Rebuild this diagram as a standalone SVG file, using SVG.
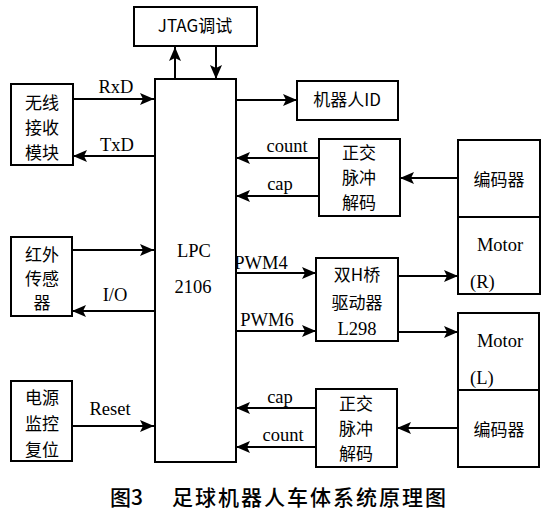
<svg xmlns="http://www.w3.org/2000/svg" width="549" height="519" viewBox="0 0 549 519">
<defs>
<marker id="ah" viewBox="0 0 14 12" refX="14" refY="6" markerWidth="14" markerHeight="12" markerUnits="userSpaceOnUse" orient="auto">
<path d="M0,0 L14,6 L0,12 L3,6 Z" fill="#000"/>
</marker>
<style>
.box{fill:#fff;stroke:#000;stroke-width:2}
.ln{stroke:#000;stroke-width:2;fill:none;marker-end:url(#ah)}
.t{font-family:"Liberation Serif","Noto Sans CJK SC",serif;font-size:18.5px;fill:#000;text-anchor:middle}
.c{font-family:"Noto Sans CJK SC","Liberation Serif",serif;font-size:17px;fill:#000;text-anchor:middle}
.cap{font-family:"Noto Sans CJK SC",serif;font-size:21px;font-weight:500;fill:#000}
</style>
</defs>
<rect width="549" height="519" fill="#fff"/>
<g id="connectors">
<line class="ln" x1="175" y1="79" x2="175" y2="47"/>
<line class="ln" x1="216" y1="47" x2="216" y2="79"/>
<line class="ln" x1="73" y1="99" x2="154" y2="99"/>
<line class="ln" x1="154" y1="156" x2="73" y2="156"/>
<line class="ln" x1="72" y1="250" x2="154" y2="250"/>
<line class="ln" x1="154" y1="311" x2="72" y2="311"/>
<line class="ln" x1="72" y1="426" x2="154" y2="426"/>
<line class="ln" x1="236" y1="100" x2="297" y2="100"/>
<line class="ln" x1="319" y1="158" x2="236" y2="158"/>
<line class="ln" x1="319" y1="196" x2="236" y2="196"/>
<line class="ln" x1="458" y1="178" x2="400" y2="178"/>
<line class="ln" x1="236" y1="273" x2="316" y2="273"/>
<line class="ln" x1="236" y1="331" x2="316" y2="331"/>
<line class="ln" x1="398" y1="276" x2="458" y2="276"/>
<line class="ln" x1="398" y1="332" x2="458" y2="332"/>
<line class="ln" x1="458" y1="428" x2="397" y2="428"/>
<line class="ln" x1="316" y1="408" x2="236" y2="408"/>
<line class="ln" x1="316" y1="447" x2="236" y2="447"/>
<text class="t" x="116" y="93">RxD</text>
<text class="t" x="117" y="151">TxD</text>
<text class="t" x="115" y="301">I/O</text>
<text class="t" x="110" y="415">Reset</text>
<text class="t" x="287" y="152">count</text>
<text class="t" x="280" y="190">cap</text>
<text class="t" x="261" y="269">PWM4</text>
<text class="t" x="267" y="326">PWM6</text>
<text class="t" x="280" y="403">cap</text>
<text class="t" x="283" y="441">count</text>
</g>
<g id="jtag"><rect class="box" x="134" y="7" width="123" height="39"/><text class="c" x="195" y="32">JTAG调试</text></g>
<g id="lpc"><rect class="box" x="155" y="79" width="81" height="383"/><text class="t" x="194" y="257">LPC</text><text class="t" x="193" y="293">2106</text></g>
<g id="wireless"><rect class="box" x="11" y="84" width="62" height="81"/><text class="c" x="42" y="109">无线</text><text class="c" x="42" y="134">接收</text><text class="c" x="42" y="159">模块</text></g>
<g id="infrared"><rect class="box" x="11" y="237" width="61" height="79"/><text class="c" x="42" y="261">红外</text><text class="c" x="42" y="285">传感</text><text class="c" x="42" y="309">器</text></g>
<g id="power"><rect class="box" x="11" y="381" width="61" height="80"/><text class="c" x="42" y="404">电源</text><text class="c" x="42" y="430">监控</text><text class="c" x="42" y="456">复位</text></g>
<g id="robotid"><rect class="box" x="297" y="81" width="101" height="39"/><text class="c" x="347" y="106">机器人ID</text></g>
<g id="decoder1"><rect class="box" x="319" y="139" width="81" height="77"/><text class="c" x="359" y="159">正交</text><text class="c" x="359" y="184">脉冲</text><text class="c" x="359" y="209">解码</text></g>
<g id="encoder1"><rect class="box" x="458" y="140" width="82" height="77"/><text class="c" x="499" y="186">编码器</text></g>
<g id="motorR"><rect class="box" x="458" y="217" width="82" height="77"/><text class="t" x="500" y="251">Motor</text><text class="t" x="470" y="288" style="text-anchor:start">(R)</text></g>
<g id="hbridge"><rect class="box" x="316" y="258" width="82" height="83"/><text class="c" x="357" y="281">双H桥</text><text class="c" x="357" y="309">驱动器</text><text class="t" x="357" y="335">L298</text></g>
<g id="motorL"><rect class="box" x="458" y="313" width="81" height="77"/><text class="t" x="500" y="347">Motor</text><text class="t" x="470" y="384" style="text-anchor:start">(L)</text></g>
<g id="encoder2"><rect class="box" x="458" y="390" width="81" height="77"/><text class="c" x="499" y="436">编码器</text></g>
<g id="decoder2"><rect class="box" x="316" y="389" width="81" height="78"/><text class="c" x="356" y="410">正交</text><text class="c" x="356" y="435">脉冲</text><text class="c" x="356" y="460">解码</text></g>
<text class="cap" x="110" y="505">图3</text>
<text class="cap" x="172" y="505" style="letter-spacing:2px">足球机器人车体系统原理图</text>
</svg>
